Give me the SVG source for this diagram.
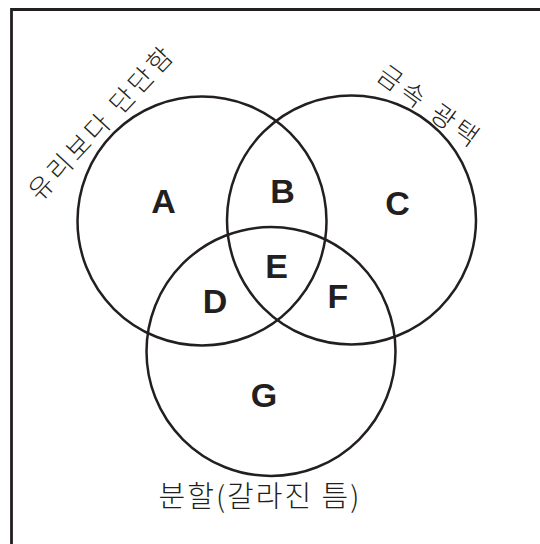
<svg xmlns="http://www.w3.org/2000/svg" width="540" height="544" viewBox="0 0 540 544">
<style>
.set{fill:none;stroke:#231f20;stroke-width:2.5}
.lbl{font-family:"Liberation Sans",Arial,sans-serif;font-weight:bold;font-size:34px;fill:#231f20;text-anchor:middle}
.kr{font-family:"Noto Sans CJK KR","Noto Sans",sans-serif;font-weight:300;font-size:26px;fill:#231f20;text-anchor:middle;dominant-baseline:central}
</style>
<rect width="540" height="544" fill="#ffffff"/>
<path d="M11.5 544 V9.5 H540" fill="none" stroke="#231f20" stroke-width="2.8"/>
<g id="set-hard">
<circle class="set" cx="202" cy="221" r="124.5"/>
<text class="kr" letter-spacing="3.5" transform="translate(100,121) rotate(-47)">유리보다 단단함</text>
</g>
<g id="set-luster">
<circle class="set" cx="351.5" cy="220" r="124.5"/>
<text class="kr" letter-spacing="4" transform="translate(431,105) rotate(36)">금속 광택</text>
</g>
<g id="set-cleavage">
<circle class="set" cx="271" cy="351.5" r="124.5"/>
<text class="kr" style="font-size:29px;dominant-baseline:auto" letter-spacing="2" x="260" y="507">분할(갈라진 틈)</text>
</g>
<g id="regions">
<text class="lbl" x="163.5" y="213">A</text>
<text class="lbl" x="282.5" y="203">B</text>
<text class="lbl" x="397.5" y="215">C</text>
<text class="lbl" x="215" y="313">D</text>
<text class="lbl" x="276.5" y="278">E</text>
<text class="lbl" x="338" y="308">F</text>
<text class="lbl" x="264" y="407">G</text>
</g>
</svg>
